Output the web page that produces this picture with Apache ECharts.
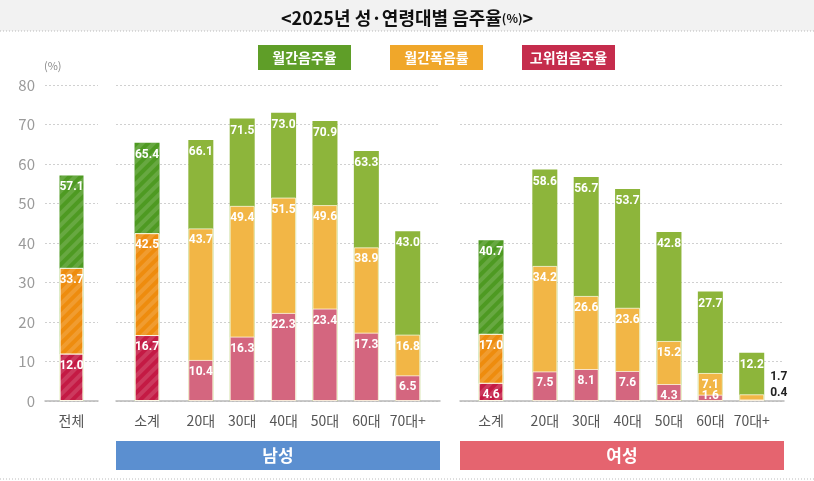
<!DOCTYPE html>
<html>
<head>
<meta charset="utf-8">
<title>2025년 성·연령대별 음주율</title>
<script src="https://cdn.jsdelivr.net/npm/echarts@6.0.0/dist/echarts.min.js"></script>
<style>
  html, body { margin: 0; padding: 0; background: #fff; }
  #chart { width: 814px; height: 481px; }
</style>
</head>
<body>
<div id="chart"></div>
<script>
// 데이터
const totalCats = ['전체']
const ageCats = ['소계', '20대', '30대', '40대', '50대', '60대', '70대+']
const groupNames = ['남성', '여성']
const seriesNames = ['월간음주율', '월간폭음률', '고위험음주율']

const monthlyAll = [57.1]
const bingeAll = [33.7]
const highRiskAll = [12.0]

const monthlyMale = [65.4, 66.1, 71.5, 73.0, 70.9, 63.3, 43.0]
const bingeMale = [42.5, 43.7, 49.4, 51.5, 49.6, 38.9, 16.8]
const highRiskMale = [16.7, 10.4, 16.3, 22.3, 23.4, 17.3, 6.5]

const monthlyFemale = [40.7, 58.6, 56.7, 53.7, 42.8, 27.7, 12.2]
const bingeFemale = [17.0, 34.2, 26.6, 23.6, 15.2, 7.1, 1.7]
const highRiskFemale = [4.6, 7.5, 8.1, 7.6, 4.3, 1.6, 0.4]

const yTicks = [0, 10, 20, 30, 40, 50, 60, 70, 80]

// 레이아웃 (소계 뒤에 간격)
const slotTotal = [0]
const slotGroup = [0, 1.3, 2.3, 3.3, 4.3, 5.3, 6.3]

const FONT = '"Noto Sans CJK KR", "Noto Sans", sans-serif'
const NUM_FONT = 'Roboto, "Noto Sans", sans-serif'

const plainColors = ['#8db53b', '#f2b646', '#d4667f']
const hatchColors = ['#4e9a22', '#ee8c0e', '#c41a44']
const legendColors = ['#5f9e28', '#f0a72a', '#c52c4c']

const hatch = {
  symbol: 'rect',
  symbolSize: 1,
  dashArrayX: [[1, 0]],
  dashArrayY: [4, 4],
  rotation: -Math.PI / 4,
  color: 'rgba(255,255,255,0.14)'
}

// 작은 막대 라벨 위치 조정
const labelFix = {
  '2-1-6': { position: 'right', distance: 6, offset: [0, -21], color: '#222' },
  '2-2-6': { position: 'right', distance: 6, offset: [0, -7], color: '#222' },
  '2-2-5': { position: 'inside', offset: [0, -2] }
}

function items (grid, s, values, slots, hatchFirst) {
  return values.map((v, i) => {
    const hatched = grid === 0 || (hatchFirst && i === 0)
    const item = {
      value: [slots[i], v],
      itemStyle: { color: hatched ? hatchColors[s] : plainColors[s] }
    }
    if (hatched) item.itemStyle.decal = hatch
    const fix = labelFix[grid + '-' + s + '-' + i]
    if (fix) item.label = fix
    return item
  })
}

const gridData = [
  { cats: totalCats, slots: slotTotal, values: [monthlyAll, bingeAll, highRiskAll] },
  { cats: ageCats, slots: slotGroup, values: [monthlyMale, bingeMale, highRiskMale] },
  { cats: ageCats, slots: slotGroup, values: [monthlyFemale, bingeFemale, highRiskFemale] }
]

const grids = [
  { left: 45, width: 53, top: 85, height: 316 },
  { left: 116, width: 324, top: 85, height: 316 },
  { left: 460, width: 324, top: 85, height: 316 }
]
const xRanges = [[-0.64, 0.64], [-0.75, 7.08], [-0.75, 7.08]]
const boxColors = ['#5b8fd0', '#e5646f']

const xAxes = gridData.map((g, k) => ({
  type: 'value',
  gridIndex: k,
  min: xRanges[k][0],
  max: xRanges[k][1],
  splitLine: { show: false },
  axisTick: { show: false },
  axisLine: { show: true, lineStyle: { color: '#b8b8b8', width: 1.5 } },
  axisLabel: {
    customValues: g.slots,
    margin: 13,
    color: '#555',
    fontSize: 14,
    fontFamily: FONT,
    formatter: v => {
      const i = g.slots.findIndex(s => Math.abs(s - v) < 1e-6)
      return i >= 0 ? g.cats[i] : ''
    }
  },
  name: k > 0 ? '{box|' + groupNames[k - 1] + '}' : '',
  nameLocation: 'middle',
  nameGap: 40,
  nameTextStyle: {
    rich: {
      box: {
        width: 324,
        height: 29,
        lineHeight: 29,
        align: 'center',
        verticalAlign: 'top',
        backgroundColor: boxColors[k - 1] || '#fff',
        color: '#fff',
        fontSize: 17,
        fontWeight: 'bold',
        fontFamily: FONT
      }
    }
  }
}))

const yAxes = gridData.map((g, k) => ({
  type: 'value',
  gridIndex: k,
  min: yTicks[0],
  max: yTicks[yTicks.length - 1],
  interval: 10,
  name: k === 0 ? '(%)' : '',
  nameLocation: 'end',
  nameGap: 14,
  nameTextStyle: { color: '#8a8a8a', fontSize: 11, align: 'right', padding: [0, 10, 0, 0], fontFamily: FONT },
  axisLine: { show: false },
  axisTick: { show: false },
  axisLabel: { show: k === 0, margin: 10, color: '#9a9a9a', fontSize: 15, fontFamily: FONT },
  splitLine: { lineStyle: { color: '#d0d0d0', type: [2, 2] } }
}))

const series = []
gridData.forEach((g, k) => {
  g.values.forEach((vals, s) => {
    series.push({
      name: seriesNames[s],
      type: 'bar',
      xAxisIndex: k,
      yAxisIndex: k,
      barWidth: k === 0 ? 24 : 25,
      barGap: '-100%',
      itemStyle: {
        color: plainColors[s],
        borderColor: s > 0 ? 'rgba(255,255,235,0.75)' : 'transparent',
        borderWidth: s > 0 ? 1 : 0
      },
      label: {
        show: true,
        position: 'insideTop',
        distance: 6,
        color: '#fff',
        fontSize: 12,
        fontWeight: 'bold',
        fontFamily: NUM_FONT,
        formatter: p => p.value[1].toFixed(1)
      },
      emphasis: { disabled: true },
      data: items(k, s, vals, g.slots, k > 0)
    })
  })
})

const legendRich = {}
seriesNames.forEach((n, i) => {
  legendRich['l' + i] = {
    width: 93,
    height: 25,
    lineHeight: 25,
    align: 'center',
    backgroundColor: legendColors[i],
    color: '#fff',
    fontSize: 14,
    fontWeight: 'bold',
    fontFamily: FONT
  }
})

const chart = echarts.init(document.getElementById('chart'))
chart.setOption({
  backgroundColor: '#fff',
  animation: false,
  title: {
    text: '{a|<2025년 성·연령대별 음주율}{b|(%)}{a|>}',
    left: 'center',
    top: 4,
    textStyle: {
      rich: {
        a: { fontSize: 18, fontWeight: 'bold', color: '#111', fontFamily: FONT },
        b: { fontSize: 12, fontWeight: 'bold', color: '#111', fontFamily: FONT }
      }
    }
  },
  legend: {
    data: seriesNames,
    left: 248,
    top: 40,
    itemWidth: 0,
    itemHeight: 0,
    itemGap: 33,
    selectedMode: false,
    formatter: name => '{l' + seriesNames.indexOf(name) + '|' + name + '}',
    textStyle: { rich: legendRich }
  },
  graphic: [
    { type: 'rect', z: -10, shape: { x: 0, y: 0, width: 814, height: 31 }, style: { fill: '#f2f2f2' } },
    { type: 'line', shape: { x1: 0, y1: 31, x2: 814, y2: 31 }, style: { stroke: '#bbb', lineDash: [1, 2] } },
    { type: 'line', shape: { x1: 0, y1: 479, x2: 814, y2: 479 }, style: { stroke: '#bbb', lineDash: [1, 2] } }
  ],
  grid: grids,
  xAxis: xAxes,
  yAxis: yAxes,
  series: series
})
</script>
</body>
</html>
